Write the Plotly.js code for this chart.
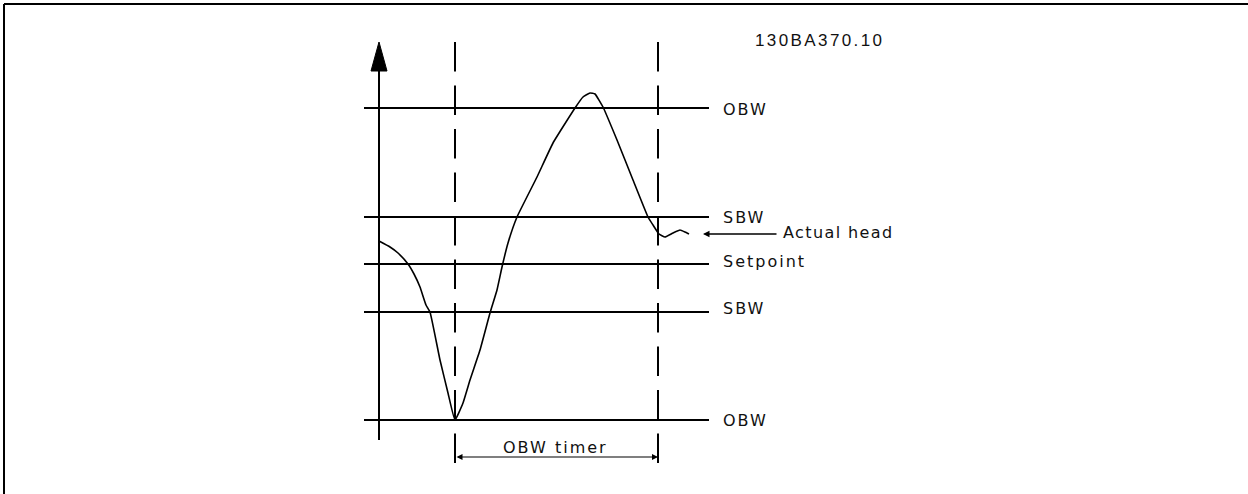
<!DOCTYPE html>
<html>
<head>
<meta charset="utf-8">
<script src="https://cdn.plot.ly/plotly-3.0.1.min.js"></script>
<style>
html,body{margin:0;padding:0;background:#fff;}
#chart{width:1248px;height:494px;}
</style>
</head>
<body>
<div id="chart"></div>
<script>
// ---- data (time from the vertical axis, head relative to setpoint) ----
const levelNames  = ['OBW', 'SBW', 'Setpoint', 'SBW', 'OBW'];
const levelValues = [156, 47, 0, -48, -156];
const levelStart = -15;
const levelEnd = 330;

const timerStart = 76;   // first dashed marker (curve hits lower OBW)
const timerEnd = 279;    // second dashed marker
const timerLabel = 'OBW timer';

const headTime = [0, 11, 19, 29, 35, 41, 47, 51, 61, 69, 76, 84, 91, 101, 111, 118, 123, 129, 138, 158, 174, 196, 204, 211, 216, 224, 238, 254, 269, 274, 280, 286, 294, 301, 306, 310];
const headValue = [23, 17, 11, 0, -10, -23, -41, -48, -96, -129, -156, -139, -116, -86, -49, -26, -3, 21, 47, 87, 121, 156, 167, 171, 170, 157, 124, 84, 47, 39, 30, 27, 31, 34, 32, 30];

const actualHeadLabel = 'Actual head';
const figureCode = '130BA370.10';

// axis extents
const axisBottom = -176, axisTop = 222, arrowBase = 193;
const dashTop = 222, dashBottom = -199;

// ---- traces ----
const traces = [];
const black = '#000';

// level lines
levelValues.forEach(v => {
  traces.push({x: [levelStart, levelEnd], y: [v, v], mode: 'lines',
    line: {color: black, width: 1.8}, hoverinfo: 'skip'});
});
// vertical axis
traces.push({x: [0, 0], y: [axisBottom, arrowBase], mode: 'lines',
  line: {color: black, width: 2}, hoverinfo: 'skip'});
traces.push({x: [-8, 8, 0, -8], y: [arrowBase, arrowBase, axisTop, arrowBase], mode: 'lines',
  fill: 'toself', fillcolor: black, line: {color: black, width: 1}, hoverinfo: 'skip'});
// dashed markers
[timerStart, timerEnd].forEach(t => {
  traces.push({x: [t, t], y: [dashTop, dashBottom], mode: 'lines',
    line: {color: black, width: 2, dash: '29.5px,14px'}, hoverinfo: 'skip'});
});
// head curve
traces.push({x: headTime, y: headValue, mode: 'lines',
  line: {color: black, width: 1.6, shape: 'spline', smoothing: 0.35}, hoverinfo: 'skip'});

// ---- annotations ----
const lab = (txt, sp) => '<span style="letter-spacing:' + sp + 'px">' + txt + '</span>';
const font = {family: 'DejaVu Sans', size: 16, color: '#111'};
const annotations = [];
const labelY = [109, 217, 261, 308, 420].map(p => 264 - p);
levelNames.forEach((n, i) => {
  annotations.push({x: levelEnd + 12, y: labelY[i], xref: 'x', yref: 'y', text: lab(n, 2),
    showarrow: false, xanchor: 'left', yanchor: 'middle', font: font});
});
annotations.push({x: 402, y: 32, xref: 'x', yref: 'y', text: lab(actualHeadLabel, 1.4),
  showarrow: false, xanchor: 'left', yanchor: 'middle', font: font});
annotations.push({x: 324, y: 30, ax: 399, ay: 30, xref: 'x', yref: 'y', axref: 'x', ayref: 'y',
  text: '', showarrow: true, arrowhead: 2, arrowsize: 1, arrowwidth: 1.3, arrowcolor: black, standoff: 0});
annotations.push({x: timerEnd, y: -193, ax: timerStart, ay: -193, xref: 'x', yref: 'y', axref: 'x', ayref: 'y',
  text: '', showarrow: true, arrowhead: 2, arrowside: 'end+start', arrowsize: 1, arrowwidth: 1.2,
  arrowcolor: black, standoff: 0, startstandoff: 0});
annotations.push({x: 122, y: 264 - 447, xref: 'x', yref: 'y', text: lab(timerLabel, 2),
  showarrow: false, xanchor: 'left', yanchor: 'middle', font: font});
annotations.push({x: 374, y: 264 - 40, xref: 'x', yref: 'y', text: lab(figureCode, 2.4),
  showarrow: false, xanchor: 'left', yanchor: 'middle',
  font: {family: 'Liberation Sans', size: 17, color: '#111'}});

// ---- frame (top and left border) ----
const shapes = [
  {type: 'line', xref: 'x', yref: 'y', x0: -375, x1: 869, y0: 260, y1: 260, line: {color: black, width: 2}},
  {type: 'line', xref: 'x', yref: 'y', x0: -375, x1: -375, y0: 260, y1: -230, line: {color: black, width: 2}}
];

const layout = {
  width: 1248, height: 494,
  margin: {l: 0, r: 0, t: 0, b: 0, pad: 0},
  paper_bgcolor: '#fff', plot_bgcolor: '#fff',
  showlegend: false,
  xaxis: {range: [-379, 869], visible: false, fixedrange: true},
  yaxis: {range: [-230, 264], visible: false, fixedrange: true},
  annotations: annotations,
  shapes: shapes
};

Plotly.newPlot('chart', traces, layout, {displayModeBar: false, staticPlot: true});
</script>
</body>
</html>
